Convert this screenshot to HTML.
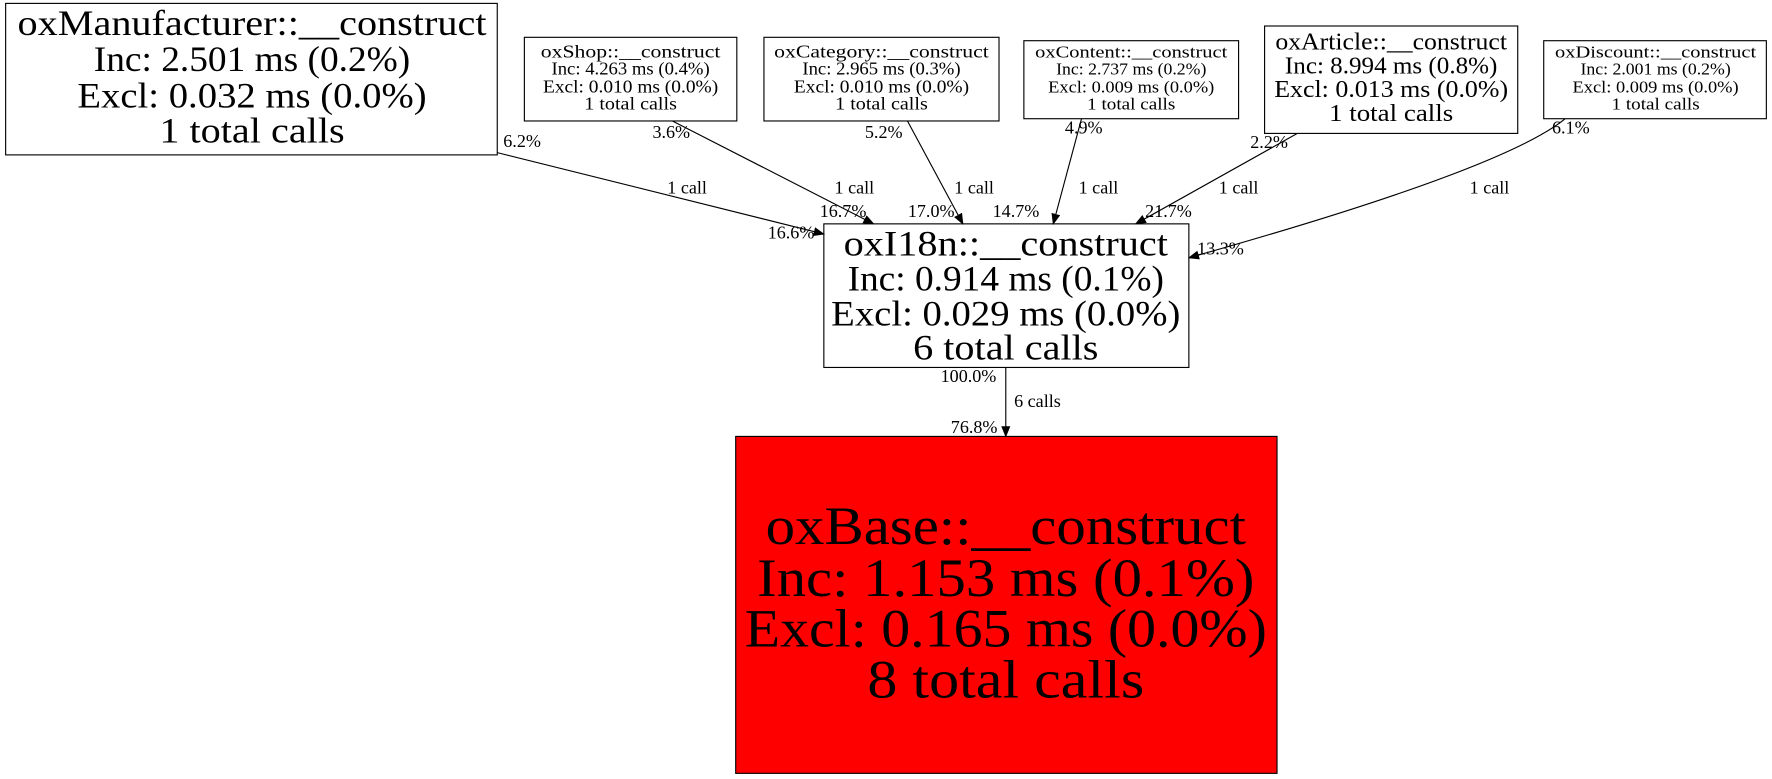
<!DOCTYPE html>
<html><head><meta charset="utf-8"><style>
html,body{margin:0;padding:0;background:#fff;}
svg{display:block;}
text{font-family:"Liberation Serif",serif;fill:#000;}
</style></head><body>
<svg width="1772" height="779" viewBox="0 0 1568 689" preserveAspectRatio="none" xmlns="http://www.w3.org/2000/svg">
<defs><marker id="a" markerWidth="10" markerHeight="8" refX="9" refY="4" orient="auto" markerUnits="userSpaceOnUse"><path d="M0,0 L10,4 L0,8 z" fill="#000"/></marker></defs>
<g fill="none" stroke="#000" stroke-width="1">
<rect x="5" y="3" width="435" height="134" fill="#fff"/>
<rect x="464" y="33" width="188" height="74" fill="#fff"/>
<rect x="676" y="33" width="208" height="74" fill="#fff"/>
<rect x="906" y="36" width="190" height="69" fill="#fff"/>
<rect x="1119" y="23" width="224" height="95" fill="#fff"/>
<rect x="1366" y="36" width="197" height="69" fill="#fff"/>
<rect x="729" y="198" width="323" height="127" fill="#fff"/>
<rect x="651" y="386" width="479" height="298" fill="#ff0000"/>
<path d="M440,135 L729,207" marker-end="url(#a)"/>
<path d="M595,107 L773,198" marker-end="url(#a)"/>
<path d="M803,107 L852,198" marker-end="url(#a)"/>
<path d="M957,105 L932,198" marker-end="url(#a)"/>
<path d="M1148,118 L1005,198" marker-end="url(#a)"/>
<path d="M1385,105 Q1330,150 1052,228" marker-end="url(#a)"/>
<path d="M890,325 L890,386" marker-end="url(#a)"/>
</g>
<g text-anchor="middle">
<text x="223" y="31" font-size="32" textLength="415" lengthAdjust="spacingAndGlyphs">oxManufacturer::__construct</text>
<text x="223" y="63" font-size="32" textLength="280" lengthAdjust="spacingAndGlyphs">Inc: 2.501 ms (0.2%)</text>
<text x="223" y="95" font-size="32" textLength="309" lengthAdjust="spacingAndGlyphs">Excl: 0.032 ms (0.0%)</text>
<text x="223" y="126" font-size="32" textLength="164" lengthAdjust="spacingAndGlyphs">1 total calls</text>

<text x="558" y="51" font-size="15.5" textLength="159" lengthAdjust="spacingAndGlyphs">oxShop::__construct</text>
<text x="558" y="66" font-size="15.5" textLength="140" lengthAdjust="spacingAndGlyphs">Inc: 4.263 ms (0.4%)</text>
<text x="558" y="82" font-size="15.5" textLength="155" lengthAdjust="spacingAndGlyphs">Excl: 0.010 ms (0.0%)</text>
<text x="558" y="97" font-size="15.5" textLength="82" lengthAdjust="spacingAndGlyphs">1 total calls</text>

<text x="780" y="51" font-size="15.5" textLength="190" lengthAdjust="spacingAndGlyphs">oxCategory::__construct</text>
<text x="780" y="66" font-size="15.5" textLength="140" lengthAdjust="spacingAndGlyphs">Inc: 2.965 ms (0.3%)</text>
<text x="780" y="82" font-size="15.5" textLength="155" lengthAdjust="spacingAndGlyphs">Excl: 0.010 ms (0.0%)</text>
<text x="780" y="97" font-size="15.5" textLength="82" lengthAdjust="spacingAndGlyphs">1 total calls</text>

<g fill="#222">
<text x="1001" y="51" font-size="15" textLength="170" lengthAdjust="spacingAndGlyphs">oxContent::__construct</text>
<text x="1001" y="66" font-size="15" textLength="133" lengthAdjust="spacingAndGlyphs">Inc: 2.737 ms (0.2%)</text>
<text x="1001" y="82" font-size="15" textLength="147" lengthAdjust="spacingAndGlyphs">Excl: 0.009 ms (0.0%)</text>
<text x="1001" y="97" font-size="15" textLength="78" lengthAdjust="spacingAndGlyphs">1 total calls</text>

<text x="1465" y="51" font-size="15" textLength="178" lengthAdjust="spacingAndGlyphs">oxDiscount::__construct</text>
<text x="1465" y="66" font-size="15" textLength="133" lengthAdjust="spacingAndGlyphs">Inc: 2.001 ms (0.2%)</text>
<text x="1465" y="82" font-size="15" textLength="147" lengthAdjust="spacingAndGlyphs">Excl: 0.009 ms (0.0%)</text>
<text x="1465" y="97" font-size="15" textLength="78" lengthAdjust="spacingAndGlyphs">1 total calls</text>
</g>

<text x="1231" y="44" font-size="21.5" textLength="205" lengthAdjust="spacingAndGlyphs">oxArticle::__construct</text>
<text x="1231" y="65" font-size="21.5" textLength="188" lengthAdjust="spacingAndGlyphs">Inc: 8.994 ms (0.8%)</text>
<text x="1231" y="86" font-size="21.5" textLength="207" lengthAdjust="spacingAndGlyphs">Excl: 0.013 ms (0.0%)</text>
<text x="1231" y="107" font-size="21.5" textLength="110" lengthAdjust="spacingAndGlyphs">1 total calls</text>

<text x="890" y="226" font-size="32" textLength="287" lengthAdjust="spacingAndGlyphs">oxI18n::__construct</text>
<text x="890" y="257" font-size="32" textLength="280" lengthAdjust="spacingAndGlyphs">Inc: 0.914 ms (0.1%)</text>
<text x="890" y="288" font-size="32" textLength="309" lengthAdjust="spacingAndGlyphs">Excl: 0.029 ms (0.0%)</text>
<text x="890" y="318" font-size="32" textLength="164" lengthAdjust="spacingAndGlyphs">6 total calls</text>

<text x="890" y="481" font-size="48" textLength="425" lengthAdjust="spacingAndGlyphs">oxBase::__construct</text>
<text x="890" y="527" font-size="48" textLength="440" lengthAdjust="spacingAndGlyphs">Inc: 1.153 ms (0.1%)</text>
<text x="890" y="572" font-size="48" textLength="462" lengthAdjust="spacingAndGlyphs">Excl: 0.165 ms (0.0%)</text>
<text x="890" y="617" font-size="48" textLength="245" lengthAdjust="spacingAndGlyphs">8 total calls</text>
</g>
<g font-size="16" text-anchor="middle">
<text x="462" y="130">6.2%</text><text x="608" y="171">1 call</text><text x="700" y="211">16.6%</text>
<text x="594" y="122">3.6%</text><text x="756" y="171">1 call</text><text x="746" y="192">16.7%</text>
<text x="782" y="122">5.2%</text><text x="862" y="171">1 call</text><text x="824" y="192">17.0%</text>
<text x="959" y="118">4.9%</text><text x="972" y="171">1 call</text><text x="899" y="192">14.7%</text>
<text x="1123" y="131">2.2%</text><text x="1096" y="171">1 call</text><text x="1034" y="192">21.7%</text>
<text x="1390" y="118">6.1%</text><text x="1318" y="171">1 call</text><text x="1080" y="225">13.3%</text>
<text x="857" y="338">100.0%</text><text x="918" y="360">6 calls</text><text x="862" y="383">76.8%</text>
</g>
</svg>
</body></html>
